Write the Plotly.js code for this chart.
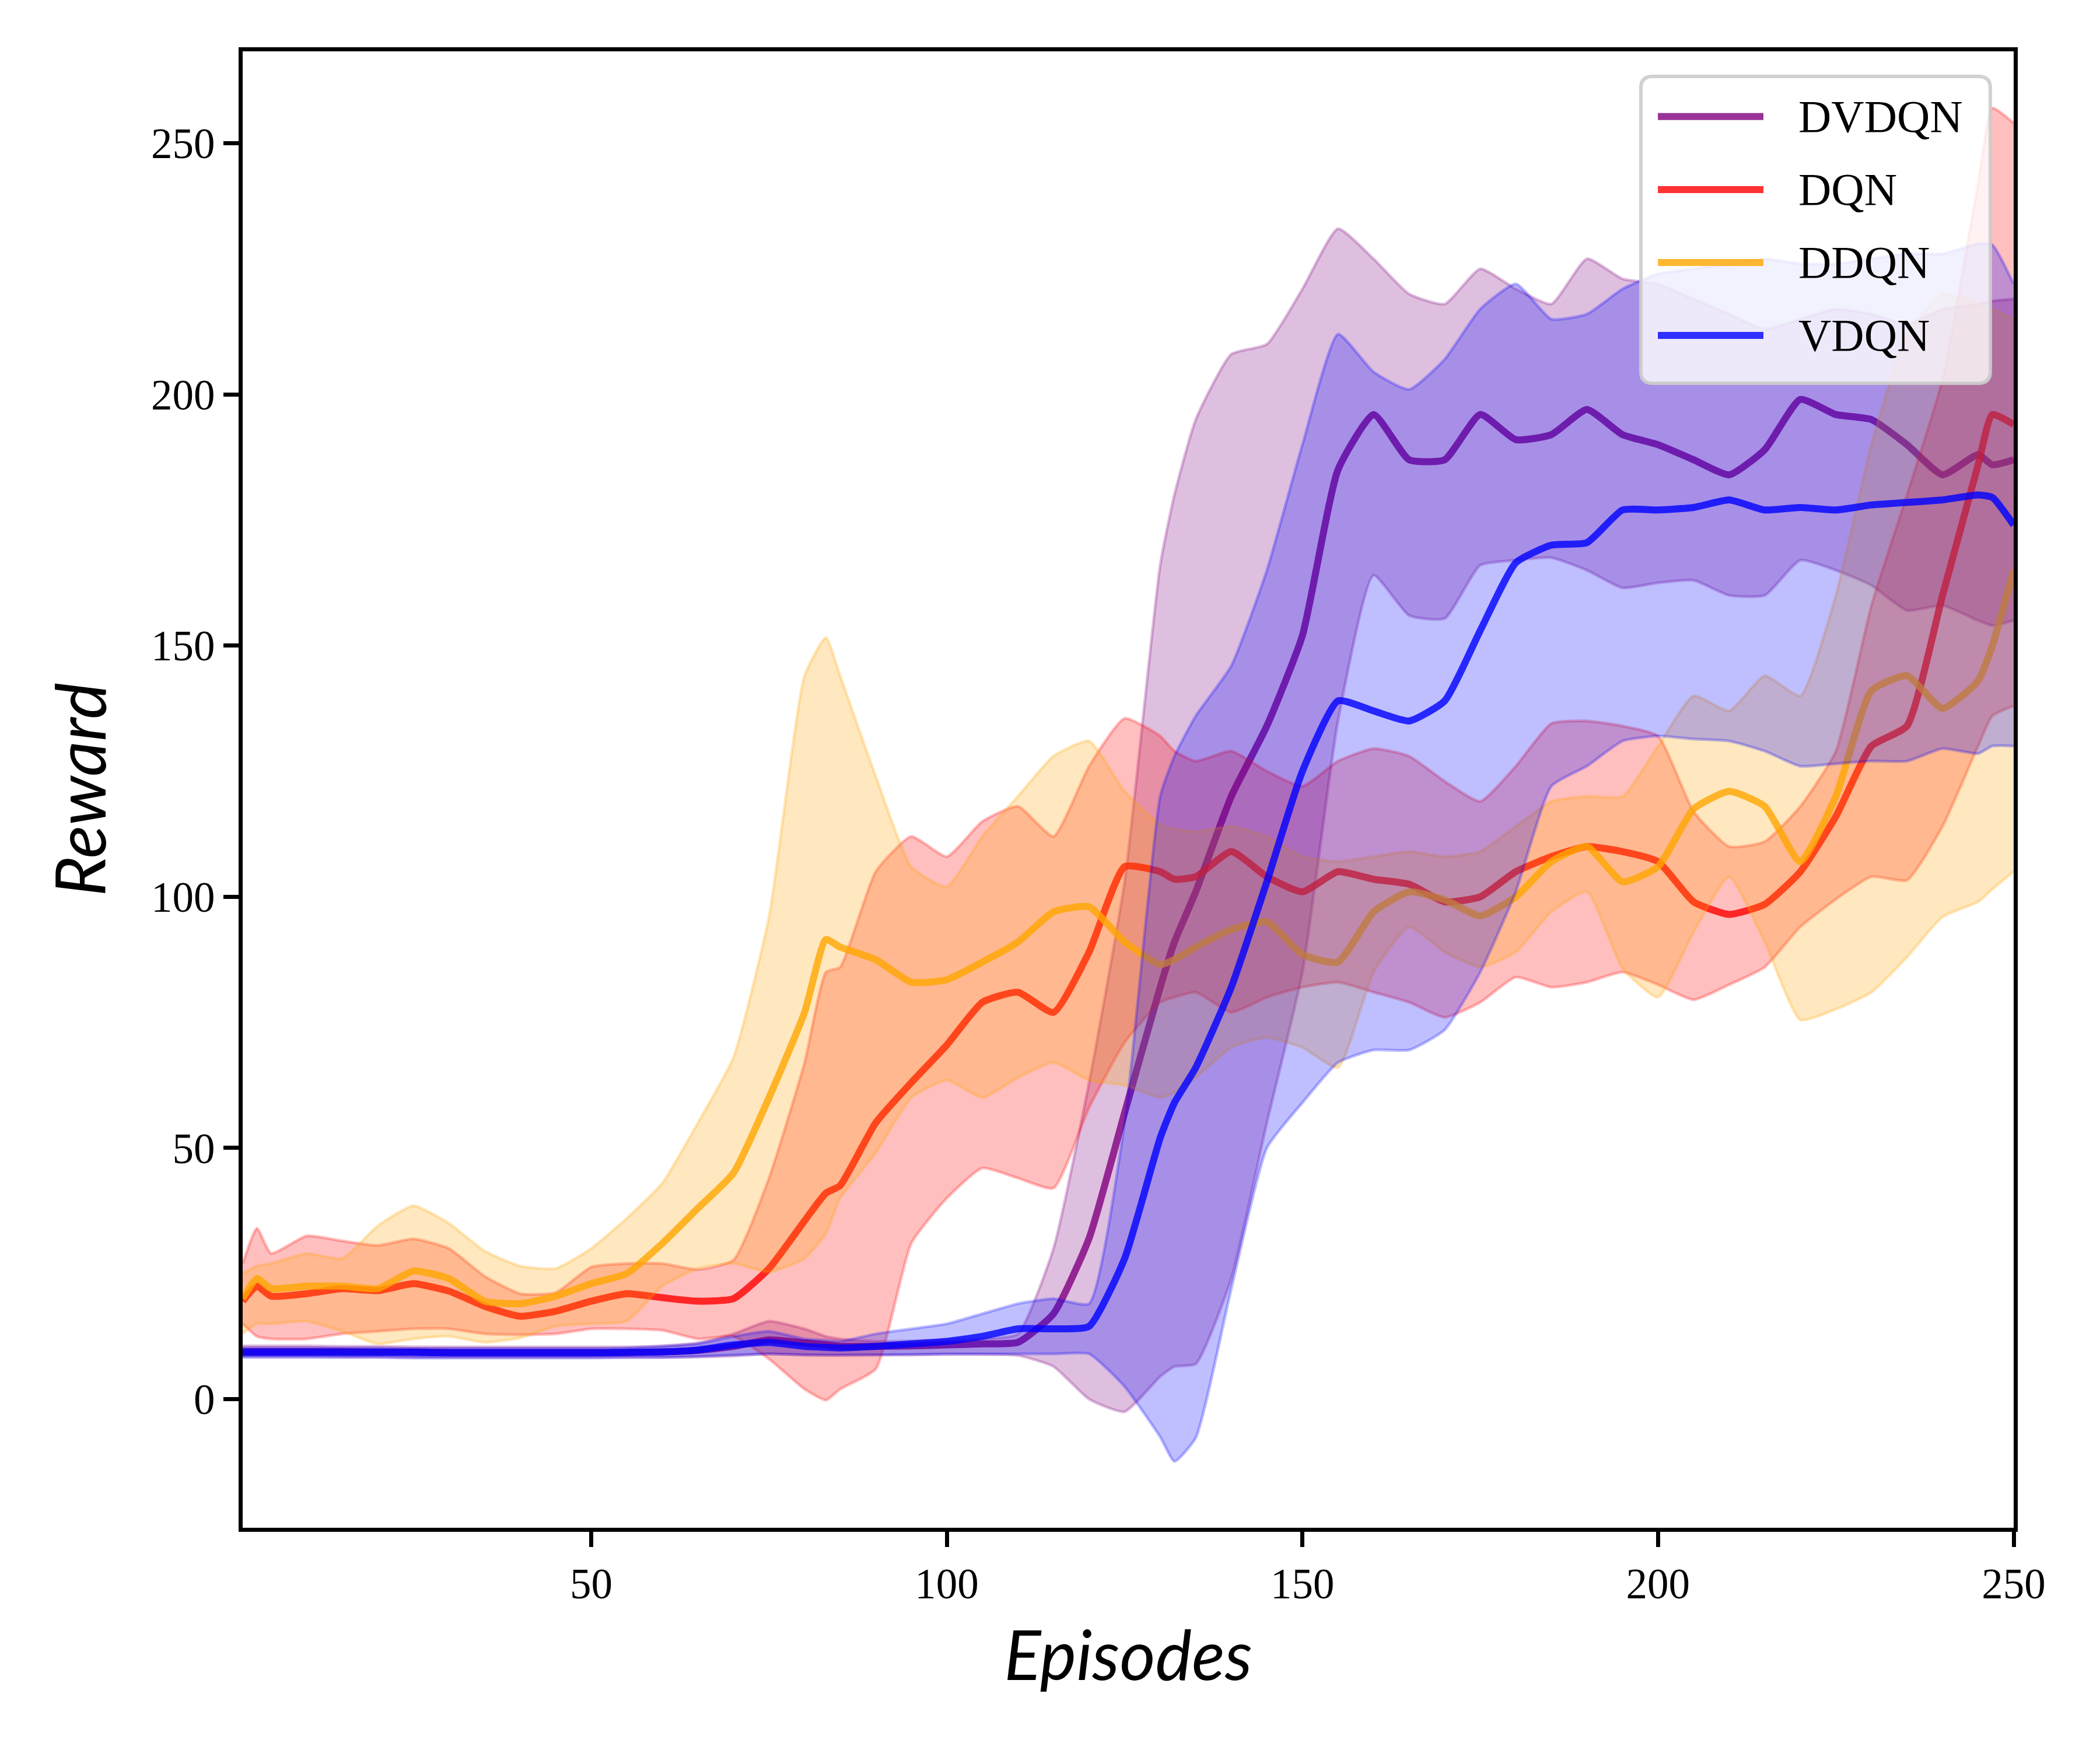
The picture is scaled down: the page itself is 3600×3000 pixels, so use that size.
<!DOCTYPE html>
<html><head><meta charset="utf-8">
<script src="https://cdn.plot.ly/plotly-3.0.1.min.js"></script>
<style>html,body{margin:0;padding:0;background:#fff}</style>
</head><body><div id="chart" style="width:3600px;height:3000px"></div>
<script>
const episodes = [1,3,5,10,15,20,25,30,35,40,45,50,55,60,65,70,75,80,83,85,90,95,100,105,110,115,120,125,130,132,135,140,145,150,155,160,165,170,175,180,185,190,195,200,205,210,215,220,225,230,235,240,245,247,250];
const seriesNames = ['DVDQN','DQN','DDQN','VDQN'];

const dvdqnMean  = [9.5,9.5,9.5,9.5,9.5,9.4,9.4,9.3,9.3,9.3,9.3,9.3,9.3,9.4,9.7,10.5,11.8,11.2,10.8,10.5,10.5,10.6,10.8,11,11.3,17,32,57,82,91,101,120,134,152,185,196,187,187,196,191,192,197,192,190,187,184,189,199,196,195,190,184,188,186,187];
const dvdqnUpper = [10.6,10.6,10.6,10.6,10.5,10.5,10.4,10.4,10.4,10.4,10.4,10.4,10.4,10.6,11.2,13,15.5,14,12.5,12,11.5,11.6,11.8,12,13,30,63,103,166,180,195,208,210,221,233,227,220,218,225,221,218,227,223,222,219,216,213,215,217,216,214,217,218,218.6,219];
const dvdqnLower = [8.5,8.5,8.5,8.5,8.4,8.4,8.3,8.3,8.3,8.3,8.3,8.3,8.3,8.3,8.4,8.6,9,8.8,8.7,8.7,8.8,8.8,8.9,8.9,8.7,6.5,0,-2.5,4.5,6.5,7,24,55,85,135,164,156,155.4,166,167,167.5,165,161.5,162.5,163,160,160,167,165,162,157,158,155,154,155];

const dqnMean  = [19.5,22.5,20.5,21,22,21.6,23,21.5,18.5,16.5,17.5,19.5,21,20.2,19.5,20,26,35.5,41,42.5,55,63,70.5,79,81,77,89,106,105,103.5,104,109,104,101,105,103.5,102.5,99,100,105,108,110,109,107,99,96.5,98.5,105,116,130,134,160,186,196,194];
const dqnUpper = [27,34,29,32.5,31.5,30.6,31.9,30,24.5,21,21.2,26.3,27,27,25.8,27.7,44,67,85,86,105,112,108,115,118,112,126,135.5,132,129,127,129,125,122,127,129.5,128,123,119,126,134.5,135,134,132,117,110,111,118,129,158,180,203,242,257,254];
const dqnLower = [15,12.5,12,12,13,13.5,14,14,13,12.8,13,14,14,13.7,12,12.5,8,2,-0.2,2,6,31,40,46,44,42,58,71,79,80,81,77,80,82,83,81,79,76,79,84,82,83,85,82.5,79.5,82.5,86,94,99.5,104,103.3,114,130,136,138];

const ddqnMean  = [20,24,22,22.5,22.5,22,25.5,24,19.5,19,20.5,23,25,31,38,45,60,77,91.5,90,87.5,83,83.5,87,91,97,98,91,86.5,87.5,90,93.5,95,88.5,87,97,101,99.4,96.2,100,107,110,103,106,117.5,121,118,107,120,141,144,137.5,143,150,165];
const ddqnUpper = [25,26.5,27,29,28,34.5,38.5,35,29.5,26.5,26,30,36,43,55,68,96,144,151.6,144,124,106,102,112,120,128,131,121,114.4,113.5,113,114,112,108,107,108,109,108,109,114,119,120,120,130,140,137,144,140,160,190,212,220,218,217,215];
const ddqnLower = [13,15,15,15.5,13.5,11,12,12.5,11.3,12.2,14.5,15,15.5,22.5,26,27,25.3,28,33,40,49,60,63.5,60,64,67,63.5,62.5,60,61,64,70,72,70,66,85,94,89,86,89,97,101,85.8,80,93,104,91,75.5,77.6,81,88,96,99,101.5,105];

const vdqnMean  = [9.3,9.3,9.3,9.3,9.3,9.3,9.3,9.2,9.2,9.2,9.2,9.2,9.3,9.4,9.8,10.8,11.3,10.5,10.3,10.2,10.5,11,11.5,12.5,14,14,14.5,28,52,59,66,82,103,125,139,137,135,139,153,166.5,170,170.5,177,177,177.5,179,177,177.5,177,178,178.5,179,180,179.5,174];
const vdqnUpper = [10.2,10.2,10.2,10.2,10.2,10.2,10.1,10.1,10.1,10.1,10.1,10.1,10.2,10.5,11,12.5,13.5,12,11.7,11.5,13,14,15,17,19,20,19,55,120,128,136,146,165,190,212,204.5,201,207,217,222,215,216,221,224,225,226,227,226,226,227,228,228,230,229.8,222];
const vdqnLower = [8.3,8.3,8.3,8.3,8.3,8.3,8.2,8.2,8.2,8.2,8.2,8.2,8.3,8.3,8.5,8.8,9,8.8,8.8,8.8,8.8,8.9,9,9,9,9,9,2.5,-7.5,-12.4,-7.7,22,50,59,67,69.5,69.5,73.5,85,101,122,126,131,132,131.4,131,129,126,126.5,127,127,129.5,128.5,130,130];

const xTicks = [50,100,150,200,250];
const yTicks = [0,50,100,150,200,250];

// ---- styling ----
const rgb = {DVDQN:'128,0,128', DQN:'255,0,0', DDQN:'255,165,0', VDQN:'0,0,255'};
const groups = [
  [dvdqnMean, dvdqnUpper, dvdqnLower],
  [dqnMean, dqnUpper, dqnLower],
  [ddqnMean, ddqnUpper, ddqnLower],
  [vdqnMean, vdqnUpper, vdqnLower]
];
const shape = {shape:'spline', smoothing:0.5};
const traces = [];
seriesNames.forEach((name, i) => {
  const [m, up, lo] = groups[i];
  const c = rgb[name];
  traces.push({x: episodes, y: lo, type:'scatter', mode:'lines', showlegend:false, hoverinfo:'skip',
    line: Object.assign({color:`rgba(${c},0.25)`, width:5}, shape)});
  traces.push({x: episodes, y: up, type:'scatter', mode:'lines', showlegend:false, hoverinfo:'skip',
    fill:'tonexty', fillcolor:`rgba(${c},0.25)`,
    line: Object.assign({color:`rgba(${c},0.25)`, width:5}, shape)});
  traces.push({x: episodes, y: m, type:'scatter', mode:'lines', name: name, showlegend:false,
    line: Object.assign({color:`rgba(${c},0.8)`, width:12}, shape)});
});

// custom legend (matplotlib style)
const L = {x0:0.7895, x1:0.9868, y0:0.7752, y1:0.983, rx:0.0066, ry:0.0079};
const boxPath = `M${L.x0+L.rx},${L.y0} L${L.x1-L.rx},${L.y0} Q${L.x1},${L.y0} ${L.x1},${L.y0+L.ry} L${L.x1},${L.y1-L.ry} Q${L.x1},${L.y1} ${L.x1-L.rx},${L.y1} L${L.x0+L.rx},${L.y1} Q${L.x0},${L.y1} ${L.x0},${L.y1-L.ry} L${L.x0},${L.y0+L.ry} Q${L.x0},${L.y0} ${L.x0+L.rx},${L.y0} Z`;
const shapes = [{type:'path', xref:'paper', yref:'paper', path:boxPath, layer:'above',
  fillcolor:'rgba(255,255,255,0.8)', line:{color:'rgba(204,204,204,0.9)', width:6}}];
const annotations = [];
const rowY = [0.9558, 0.9064, 0.857, 0.8076];
seriesNames.forEach((name, i) => {
  shapes.push({type:'line', xref:'paper', yref:'paper', x0:0.7991, x1:0.8587, y0:rowY[i], y1:rowY[i],
    layer:'above', line:{color:`rgba(${rgb[name]},0.8)`, width:12}});
  annotations.push({xref:'paper', yref:'paper', x:0.8778, y:rowY[i], xanchor:'left', yanchor:'middle',
    showarrow:false, text:name, font:{family:'Liberation Serif', size:78, color:'#000'}});
});

const axisCommon = {
  showline:true, mirror:true, linecolor:'#000', linewidth:7,
  ticks:'outside', ticklen:26, tickwidth:7, tickcolor:'#000',
  showgrid:false, zeroline:false,
  tickfont:{family:'Liberation Serif', size:73, color:'#000'}
};
const layout = {
  width:3600, height:3000,
  margin:{l:416, r:148, t:88, b:381},
  paper_bgcolor:'#fff', plot_bgcolor:'#fff',
  showlegend:false,
  xaxis: Object.assign({}, axisCommon, {range:[1,250], tickvals:xTicks,
    title:{text:'Episodes', font:{family:'Lato', style:'italic', size:118, color:'#000'}, standoff:45}}),
  yaxis: Object.assign({}, axisCommon, {range:[-25.6,268.3], tickvals:yTicks,
    title:{text:'Reward', font:{family:'Lato', style:'italic', size:118, color:'#000'}, standoff:40}}),
  shapes: shapes,
  annotations: annotations
};
Plotly.newPlot('chart', traces, layout, {staticPlot:true, displayModeBar:false});
</script>
</body></html>
